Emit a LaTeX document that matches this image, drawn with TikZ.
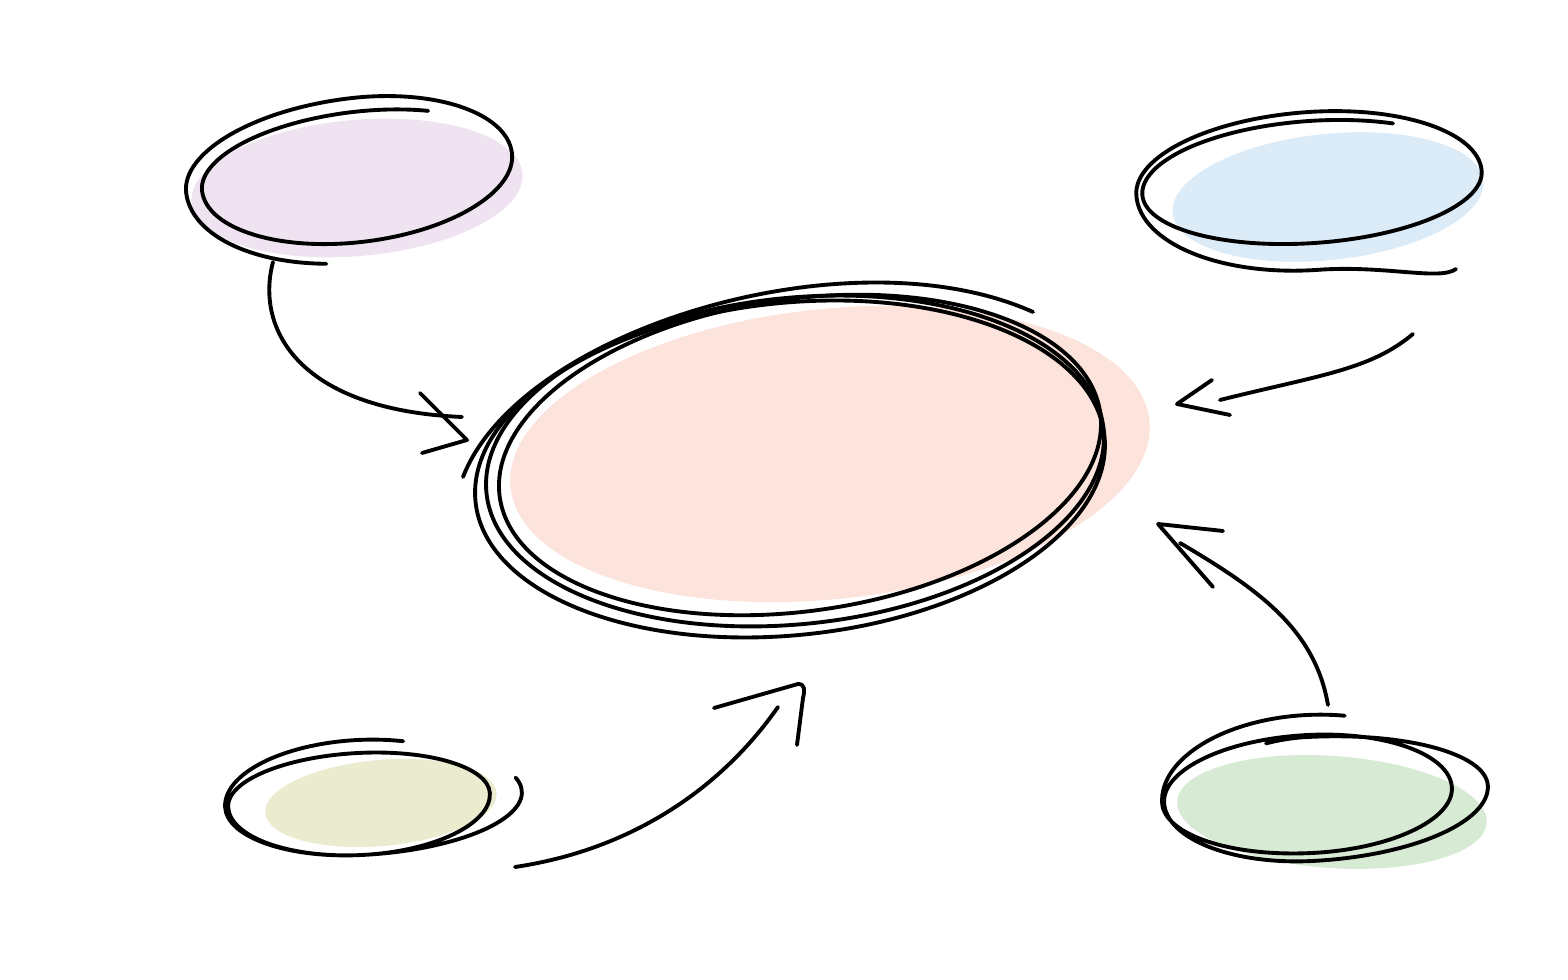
\documentclass[tikz,border=0pt]{standalone}
\usetikzlibrary{calc}
\definecolor{cpurple}{HTML}{EFE2F1}
\definecolor{cblue}{HTML}{DBEBF7}
\definecolor{colive}{HTML}{EBEBCF}
\definecolor{cgreen}{HTML}{D7EAD3}
\definecolor{cpink}{HTML}{FCE4DC}
\tikzset{
  sk/.style={line width=1.1pt, line cap=round, line join=round, black},
}
\begin{document}
\begin{tikzpicture}[x=0.01cm,y=-0.01cm]
\useasboundingbox (0,0) rectangle (1568,980);
\fill[white] (0,0) rectangle (1568,980);

% ---------- fills ----------
\coordinate (fp) at (357,188);
\coordinate (fb) at (1328,197);
\coordinate (fo) at (381,803);
\coordinate (fg) at (1332,812);
\coordinate (fc) at (830,454);
\fill[cpurple, rotate around={5:(fp)}] (fp) ellipse [x radius=1.66cm, y radius=0.68cm];
\fill[cblue, rotate around={6:(fb)}] (fb) ellipse [x radius=1.56cm, y radius=0.63cm];
\fill[colive, rotate around={5:(fo)}] (fo) ellipse [x radius=1.16cm, y radius=0.43cm];
\fill[cgreen, rotate around={-4:(fg)}] (fg) ellipse [x radius=1.55cm, y radius=0.56cm];
\fill[cpink, rotate around={6:(fc)}] (fc) ellipse [x radius=3.21cm, y radius=1.45cm];

% ---------- top-left ellipse ----------
\coordinate (tl) at (357,172);
\begin{scope}[shift={(tl)}, rotate=7]
\draw[sk] (60:1.56cm and 0.60cm)
  arc[start angle=60, end angle=180, x radius=1.56cm, y radius=0.60cm]
  arc[start angle=180, end angle=360, x radius=1.56cm, y radius=0.70cm]
  arc[start angle=0, end angle=90, x radius=1.56cm, y radius=0.74cm]
  arc[start angle=90, end angle=180, x radius=1.72cm, y radius=0.74cm]
  arc[start angle=180, end angle=256, x radius=1.72cm, y radius=0.90cm];
\end{scope}

% ---------- top-right ellipse ----------
\coordinate (tr) at (1312,183);
\begin{scope}[shift={(tr)}, rotate=4]
\draw[sk] (60:1.70cm and 0.62cm)
  arc[start angle=60, end angle=180, x radius=1.70cm, y radius=0.62cm]
  arc[start angle=180, end angle=360, x radius=1.70cm, y radius=0.60cm]
  arc[start angle=0, end angle=90, x radius=1.70cm, y radius=0.71cm]
  arc[start angle=90, end angle=180, x radius=1.76cm, y radius=0.71cm]
  arc[start angle=180, end angle=270, x radius=1.76cm, y radius=0.87cm] coordinate (trb);
\end{scope}
\coordinate (trt) at (1456,269);
\draw[sk] (trb) .. controls (1385,265) and (1440,281) .. (trt);

% ---------- bottom-left ellipse ----------
\coordinate (bl) at (360,800);
\begin{scope}[shift={(bl)}, rotate=3]
\draw[sk] (70:1.35cm and 0.60cm)
  arc[start angle=70, end angle=180, x radius=1.35cm, y radius=0.60cm]
  arc[start angle=180, end angle=270, x radius=1.35cm, y radius=0.55cm]
  arc[start angle=270, end angle=360, x radius=1.30cm, y radius=0.55cm]
  arc[start angle=0, end angle=90, x radius=1.30cm, y radius=0.47cm]
  arc[start angle=90, end angle=180, x radius=1.32cm, y radius=0.47cm]
  arc[start angle=180, end angle=270, x radius=1.32cm, y radius=0.55cm]
  arc[start angle=270, end angle=375, x radius=1.62cm, y radius=0.55cm];
\end{scope}

% ---------- bottom-right ellipse ----------
\coordinate (br) at (1310,795);
\begin{scope}[shift={(br)}, rotate=3]
\draw[sk] (75:1.50cm and 0.80cm)
  arc[start angle=75, end angle=90, x radius=1.50cm, y radius=0.80cm]
  arc[start angle=90, end angle=180, x radius=1.48cm, y radius=0.80cm]
  arc[start angle=180, end angle=270, x radius=1.48cm, y radius=0.58cm]
  arc[start angle=270, end angle=360, x radius=1.42cm, y radius=0.58cm]
  arc[start angle=0, end angle=90, x radius=1.42cm, y radius=0.60cm]
  arc[start angle=90, end angle=180, x radius=1.46cm, y radius=0.60cm]
  arc[start angle=180, end angle=270, x radius=1.46cm, y radius=0.66cm]
  arc[start angle=270, end angle=360, x radius=1.78cm, y radius=0.66cm]
  arc[start angle=0, end angle=90, x radius=1.78cm, y radius=0.58cm]
  arc[start angle=90, end angle=112, x radius=1.10cm, y radius=0.58cm];
\end{scope}

% ---------- center ellipse ----------
\coordinate (c1) at (790,469);
\coordinate (c2) at (800,455);
\coordinate (c3) at (795,461);
\draw[sk, rotate around={6:(c1)}] (c1) ellipse [x radius=3.16cm, y radius=1.66cm];
\draw[sk, rotate around={8:(c2)}] (c2) ellipse [x radius=3.03cm, y radius=1.56cm];
\draw[sk, rotate around={6:(c3)}] (c3) ellipse [x radius=3.10cm, y radius=1.63cm];
\coordinate (cos) at (463,477);
\coordinate (coe) at (1033,312);
\draw[sk] (cos) .. controls (520,330) and (850,230) .. (coe);

% ---------- arrows ----------
% top-left
\coordinate (a1s) at (273,262);
\coordinate (a1e) at (462,417);
\draw[sk] (a1s) .. controls (255,330) and (300,410) .. (a1e);
\draw[sk] (420,393) -- (467,440) -- (422,453);
% top-right
\coordinate (a2s) at (1413,334);
\coordinate (a2e) at (1220,400);
\draw[sk] (a2s) .. controls (1370,370) and (1320,375) .. (a2e);
\draw[sk] (1212,380) -- (1177,404) -- (1230,415);
% bottom-right
\coordinate (a3s) at (1328,705);
\coordinate (a3e) at (1180,543);
\draw[sk] (a3s) .. controls (1315,630) and (1260,590) .. (a3e);
\draw[sk] (1213,587) -- (1158,524) -- (1223,531);
% bottom-left
\coordinate (a4s) at (515,867);
\coordinate (a4e) at (778,707);
\draw[sk] (a4s) .. controls (630,850) and (720,790) .. (a4e);
\draw[sk] (714,708) -- (798,684) .. controls (805,684) and (805,690) .. (803,698) -- (797,745);
\end{tikzpicture}
\end{document}
